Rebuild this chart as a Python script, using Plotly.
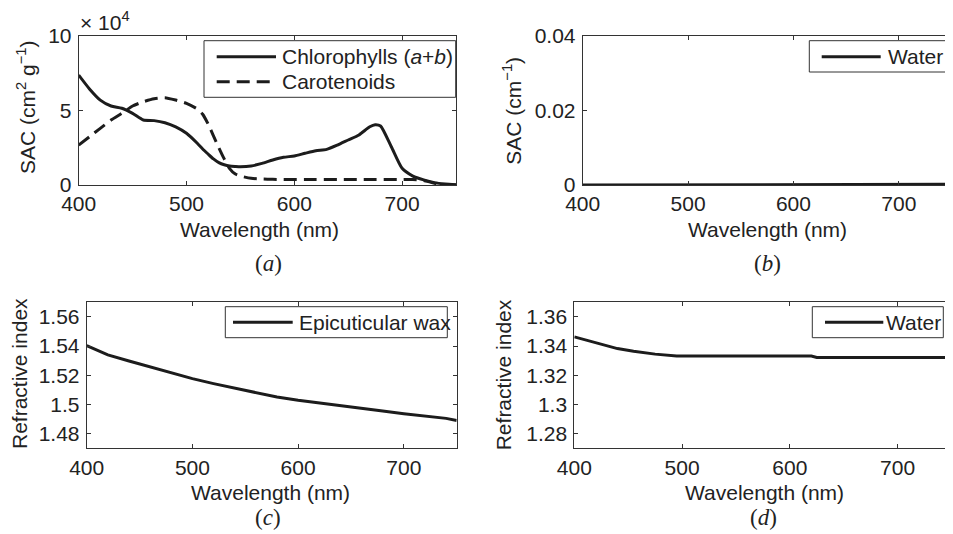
import plotly.graph_objects as go

# page body has an 8px margin; figure is laid out in reference pixels shifted by OFF
W, H = 945, 526
OFF = 8

# ---------------- data ----------------
wl_pig = [400, 410, 420, 430, 440, 450, 460, 470, 480, 490, 500, 510, 515, 520, 525, 530, 535,
          540, 545, 550, 560, 570, 580, 590, 600, 610, 620, 630, 640, 650, 660, 670, 675, 680,
          690, 700, 710, 720, 730, 740, 750]
chl_sac_1e4 = [7.38, 6.45, 5.7, 5.3, 5.15, 4.81, 4.36, 4.32, 4.18, 3.9, 3.47, 2.8, 2.42, 2.08, 1.75, 1.5, 1.36,
               1.28, 1.25, 1.23, 1.28, 1.45, 1.68, 1.86, 1.95, 2.13, 2.3, 2.39, 2.68, 3.02, 3.36, 3.91, 4.05, 3.96,
               2.57, 1.12, 0.6, 0.34, 0.16, 0.07, 0.02]
car_sac_1e4 = [2.68, 3.24, 3.8, 4.36, 4.81, 5.3, 5.59, 5.79, 5.86, 5.7, 5.48, 5.1, 4.75, 4.1, 3.3, 2.5, 1.75,
               1.1, 0.75, 0.6, 0.45, 0.4, 0.38, 0.37, 0.37, 0.37, 0.37, 0.37, 0.37, 0.37, 0.37, 0.37, 0.37, 0.37,
               0.37, 0.37, 0.37, 0.3, 0.12, 0.03, 0.0]

wl_water_sac = [400, 450, 500, 550, 600, 650, 700, 750]
water_sac = [0.0, 0.0, 0.0, 0.0, 0.0001, 0.0001, 0.0001, 0.0002]

wl_wax = [400, 420, 440, 460, 480, 500, 520, 540, 560, 580, 600, 620, 640, 660, 680, 700, 720, 740, 750]
wax_ri = [1.5403, 1.534, 1.5298, 1.5257, 1.5216, 1.5177, 1.5143, 1.5111, 1.5079, 1.5051, 1.5029,
          1.501, 1.4992, 1.4969, 1.4955, 1.4937, 1.4923, 1.4905, 1.4891]

wl_water_ri = [400, 420, 440, 455, 475, 495, 520, 560, 600, 620, 625, 660, 700, 750]
water_ri = [1.3463, 1.3422, 1.3383, 1.3365, 1.3345, 1.3332, 1.3332, 1.3332, 1.3332, 1.3332, 1.3322,
            1.3322, 1.3322, 1.3322]

x_ticks = [400, 500, 600, 700]
a_yticks = [0, 5, 10]
a_ytext = ["0", "5", "10"]
b_yticks = [0, 0.02, 0.04]
b_ytext = ["0", "0.02", "0.04"]
c_yticks = [1.48, 1.5, 1.52, 1.54, 1.56]
c_ytext = ["1.48", "1.5", "1.52", "1.54", "1.56"]
d_yticks = [1.28, 1.3, 1.32, 1.34, 1.36]
d_ytext = ["1.28", "1.3", "1.32", "1.34", "1.36"]

# ---------------- styling ----------------
LINE = "#1c1c1c"
AX = "#333333"
FONT = "Liberation Sans, Arial, sans-serif"
SERIF = "Liberation Serif, Times New Roman, serif"
LW = 3
DASH = "13px,7px"


def px(x):
    return (x - OFF) / W


def py(y):
    return 1 - (y - OFF) / H


fig = go.Figure()

fig.add_trace(go.Scatter(x=wl_pig, y=chl_sac_1e4, mode="lines", line=dict(color=LINE, width=LW, shape="spline", smoothing=0.6),
                         xaxis="x", yaxis="y", showlegend=False))
fig.add_trace(go.Scatter(x=wl_pig, y=car_sac_1e4, mode="lines", line=dict(color=LINE, width=LW, dash=DASH, shape="spline", smoothing=0.6),
                         xaxis="x", yaxis="y", showlegend=False))
fig.add_trace(go.Scatter(x=wl_water_sac, y=water_sac, mode="lines", line=dict(color=LINE, width=LW),
                         xaxis="x2", yaxis="y2", showlegend=False))
fig.add_trace(go.Scatter(x=wl_wax, y=wax_ri, mode="lines", line=dict(color=LINE, width=LW),
                         xaxis="x3", yaxis="y3", showlegend=False))
fig.add_trace(go.Scatter(x=wl_water_ri, y=water_ri, mode="lines", line=dict(color=LINE, width=LW),
                         xaxis="x4", yaxis="y4", showlegend=False))

panels = {
    "a": dict(x0=78.7, x1=456, y0=36, y1=185),
    "b": dict(x0=582.7, x1=951.5, y0=36, y1=185),
    "c": dict(x0=86.7, x1=456.7, y0=302.3, y1=448.3),
    "d": dict(x0=574.3, x1=951.5, y0=302.3, y1=448.3),
}


def xax(p, anchor):
    d = panels[p]
    return dict(domain=[px(d["x0"]), min(1, px(d["x1"]))], range=[400, 750], anchor=anchor,
                tickvals=x_ticks, ticks="inside", ticklen=4, tickcolor=AX, showline=True,
                linecolor=AX, linewidth=1, mirror="allticks", showgrid=False, zeroline=False,
                automargin=False,
                tickfont=dict(family=FONT, size=21, color="#222"), ticklabelstandoff=0)


def yax(p, anchor, rng, tv, tt):
    d = panels[p]
    return dict(domain=[py(d["y1"]), py(d["y0"])], range=rng, anchor=anchor,
                tickvals=tv, ticktext=tt, ticks="inside", ticklen=4, tickcolor=AX, showline=True,
                linecolor=AX, linewidth=1, mirror="allticks", showgrid=False, zeroline=False,
                automargin=False,
                tickfont=dict(family=FONT, size=21, color="#222"), ticklabelstandoff=2)


fig.update_layout(
    width=W, height=H, margin=dict(l=0, r=0, t=0, b=0, autoexpand=False),
    paper_bgcolor="white", plot_bgcolor="white",
    xaxis=xax("a", "y"), yaxis=yax("a", "x", [0, 10], a_yticks, a_ytext),
    xaxis2=xax("b", "y2"), yaxis2=yax("b", "x2", [0, 0.04], b_yticks, b_ytext),
    xaxis3=xax("c", "y3"), yaxis3=yax("c", "x3", [1.47, 1.57], c_yticks, c_ytext),
    xaxis4=xax("d", "y4"), yaxis4=yax("d", "x4", [1.27, 1.37], d_yticks, d_ytext),
    showlegend=False,
)

shapes = []
annots = []


def text(x, y, s, size=21, family=FONT, xanchor="center", angle=0, color="#222"):
    annots.append(dict(x=px(x), y=py(y), xref="paper", yref="paper", text=s, showarrow=False,
                       xanchor=xanchor, yanchor="middle", textangle=angle,
                       font=dict(family=family, size=size, color=color)))


def legend_box(x0, y0, x1, y1, items):
    shapes.append(dict(type="rect", xref="paper", yref="paper", x0=px(x0), x1=px(x1), y0=py(y1), y1=py(y0),
                       line=dict(color=AX, width=1), fillcolor="white", layer="above"))
    for (lx0, lx1, ly, dash, label, tx) in items:
        shapes.append(dict(type="line", xref="paper", yref="paper", x0=px(lx0), x1=px(lx1), y0=py(ly), y1=py(ly),
                           line=dict(color=LINE, width=LW, dash=dash), layer="above"))
        text(tx, ly, label, size=21, xanchor="left")


legend_box(204, 40.7, 455.7, 97.3, [
    (216.7, 276, 56.7, "solid", "Chlorophylls (<i>a</i>+<i>b</i>)", 280),
    (216.7, 276, 81.7, DASH, "Carotenoids", 280),
])
legend_box(809.3, 40.7, 946, 72, [(821.7, 880.7, 56.7, "solid", "Water", 886)])
legend_box(225.3, 306.7, 447.3, 337.7, [(233, 292.7, 322.3, "solid", "Epicuticular wax", 297)])
legend_box(812.3, 306.7, 943.3, 337.7, [(825, 883.3, 322.3, "solid", "Water", 884)])

# axis titles
text(259.6, 230, "Wavelength (nm)")
text(767.5, 230, "Wavelength (nm)")
text(270.8, 492, "Wavelength (nm)")
text(764, 492, "Wavelength (nm)")
text(26, 108, "SAC (cm<sup>2</sup> g<sup>\u22121</sup>)", angle=-90)
text(511.7, 111, "SAC (cm<sup>\u22121</sup>)", angle=-90)
text(19, 374, "Refractive index", angle=-90)
text(503.3, 375, "Refractive index", angle=-90)
text(78, 21, "\u00d7 10<sup>4</sup>", xanchor="left")

# captions
text(268, 264, "(<i>a</i>)", size=23, family=SERIF)
text(767, 264, "(<i>b</i>)", size=23, family=SERIF)
text(268, 517, "(<i>c</i>)", size=23, family=SERIF)
text(763, 517, "(<i>d</i>)", size=23, family=SERIF)

fig.update_layout(shapes=shapes, annotations=annots)
fig.write_html("out.html")
